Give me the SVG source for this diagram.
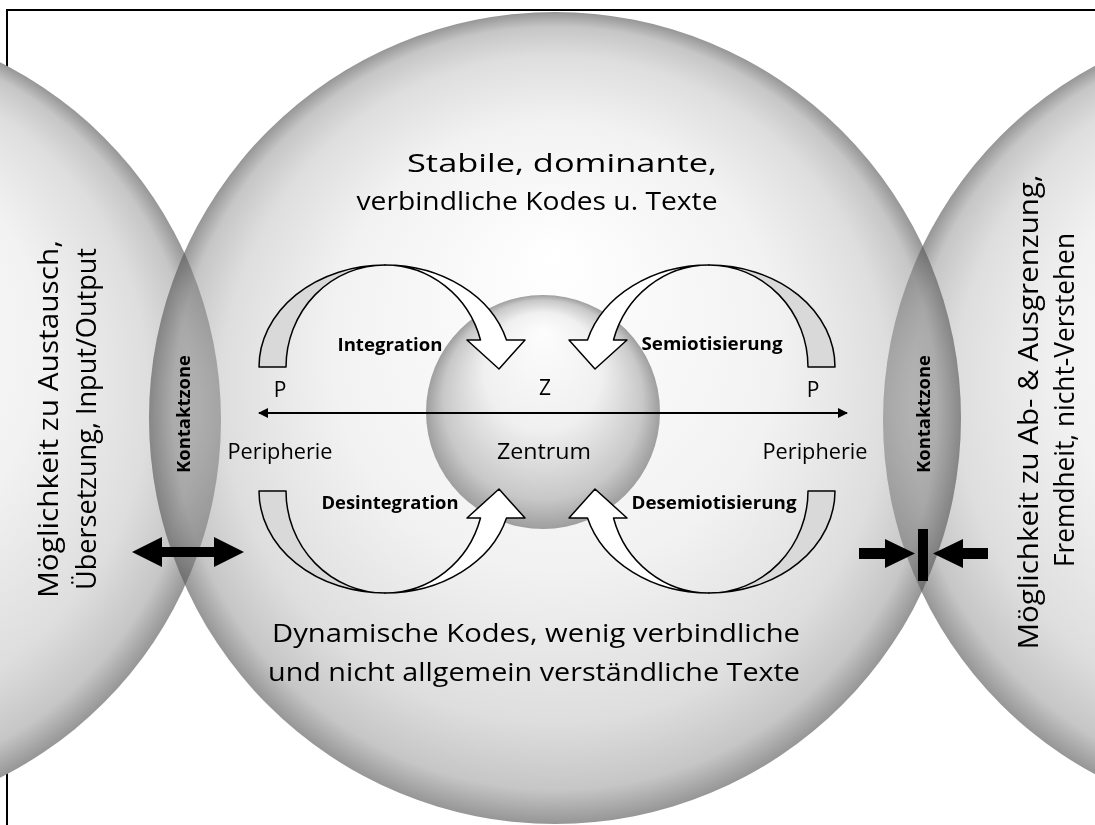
<svg xmlns="http://www.w3.org/2000/svg" width="1095" height="825" viewBox="0 0 1095 825">
<defs>
  <radialGradient id="sph" cx="0.5" cy="0.5" r="0.5" fx="0.5" fy="0.3">
    <stop offset="0" stop-color="#ffffff"/>
    <stop offset="0.55" stop-color="#f2f2f2"/>
    <stop offset="0.82" stop-color="#dedede"/>
    <stop offset="0.94" stop-color="#c6c6c6"/>
    <stop offset="1" stop-color="#969696"/>
  </radialGradient>
  <radialGradient id="lensOv" cx="0.5" cy="0.5" r="0.5" fx="0.5" fy="0.3">
    <stop offset="0" stop-color="#ffffff"/>
    <stop offset="0.8" stop-color="#e8e8e8"/>
    <stop offset="0.93" stop-color="#d8d8d8"/>
    <stop offset="1" stop-color="#bdbdbd"/>
  </radialGradient>
  <radialGradient id="csph" cx="0.5" cy="0.5" r="0.5" fx="0.5" fy="0.15">
    <stop offset="0" stop-color="#fdfdfd"/>
    <stop offset="0.5" stop-color="#f0f0f0"/>
    <stop offset="0.85" stop-color="#c8c8c8"/>
    <stop offset="1" stop-color="#9e9e9e"/>
  </radialGradient>
  <clipPath id="mainClip"><circle cx="555" cy="418" r="406"/></clipPath>
  <marker id="ah" viewBox="0 0 10 10" refX="9" refY="5" markerWidth="10" markerHeight="10" markerUnits="userSpaceOnUse" orient="auto-start-reverse">
    <path d="M0,0 L10,5 L0,10 Z" fill="#000"/>
  </marker>
  <g id="carrow">
    <path class="gray" d="M259,367 A126,102 0 0 1 385,265 A99,102 0 0 0 286,367 Z"/>
    <path class="white" d="M385,265 A126,102 0 0 1 506.5,340 L525,340 L499,369 L467,340 L480.5,340 A99,102 0 0 0 385,265 Z"/>
  </g>
</defs>
<style>
  .gray { fill:#d9d9d9; stroke:#000; stroke-width:1.5; stroke-linejoin:round; }
  .white { fill:#ffffff; stroke:#000; stroke-width:1.5; stroke-linejoin:round; }
  text { font-family:"Open Sans","Liberation Sans",sans-serif; fill:#000; }
  .big { font-size:26px; text-anchor:middle; }
  .side { font-size:27px; text-anchor:middle; }
  .lab { font-size:21px; text-anchor:middle; }
  .bold { font-size:18px; font-weight:bold; text-anchor:middle; }
  .kz { font-size:18px; font-weight:bold; text-anchor:middle; }
</style>
<rect x="0" y="0" width="1095" height="825" fill="#ffffff"/>
<rect x="7" y="10" width="1100" height="830" fill="none" stroke="#000" stroke-width="2"/>

<g id="sphere-left"><circle cx="-179" cy="420" r="400" fill="url(#sph)"/></g>
<g id="sphere-right"><circle cx="1285" cy="420" r="402" fill="url(#sph)"/></g>
<g id="sphere-main"><circle cx="555" cy="418" r="406" fill="url(#sph)"/></g>
<g id="kontaktzone-left">
  <circle cx="-179" cy="420" r="400" fill="url(#lensOv)" clip-path="url(#mainClip)" style="mix-blend-mode:multiply"/>
  <text class="kz" transform="translate(190,414) rotate(-90)" textLength="118" lengthAdjust="spacingAndGlyphs">Kontaktzone</text>
</g>
<g id="kontaktzone-right">
  <circle cx="1285" cy="420" r="402" fill="url(#lensOv)" clip-path="url(#mainClip)" style="mix-blend-mode:multiply"/>
  <text class="kz" transform="translate(930,414) rotate(-90)" textLength="118" lengthAdjust="spacingAndGlyphs">Kontaktzone</text>
</g>
<g id="zentrum"><circle cx="543" cy="412" r="117" fill="url(#csph)"/></g>

<g id="connectors">
  <line x1="259" y1="413" x2="847" y2="413" stroke="#000" stroke-width="2" marker-start="url(#ah)" marker-end="url(#ah)"/>
  <g id="integration"><use href="#carrow"/></g>
  <g id="semiotisierung"><use href="#carrow" transform="translate(1094,0) scale(-1,1)"/></g>
  <g id="desintegration"><use href="#carrow" transform="translate(0,858) scale(1,-1)"/></g>
  <g id="desemiotisierung"><use href="#carrow" transform="translate(1094,858) scale(-1,-1)"/></g>
  <path id="exchange" d="M132,552 L162,537 L162,547 L214,547 L214,537 L244,552 L214,567 L214,557 L162,557 L162,567 Z" fill="#000"/>
  <g id="barrier" fill="#000">
    <path d="M859,548 L885,548 L885,539 L915,553.5 L885,568 L885,559 L859,559 Z"/>
    <rect x="918" y="529" width="10" height="52"/>
    <path d="M988,548 L963,548 L963,539 L933,553.5 L963,568 L963,559 L988,559 Z"/>
  </g>
</g>

<g id="labels">
  <text class="big" x="562" y="172" textLength="310" lengthAdjust="spacingAndGlyphs">Stabile, dominante,</text>
  <text class="big" x="537" y="210" textLength="361" lengthAdjust="spacingAndGlyphs">verbindliche Kodes u. Texte</text>
  <text class="big" x="536" y="642" textLength="528" lengthAdjust="spacingAndGlyphs">Dynamische Kodes, wenig verbindliche</text>
  <text class="big" x="534" y="681" textLength="532" lengthAdjust="spacingAndGlyphs">und nicht allgemein verständliche Texte</text>
  <text class="lab" x="280" y="397">P</text>
  <text class="lab" x="813" y="397">P</text>
  <text class="lab" x="545" y="395">Z</text>
  <text class="lab" x="280" y="459" textLength="105" lengthAdjust="spacingAndGlyphs">Peripherie</text>
  <text class="lab" x="544" y="459" textLength="94" lengthAdjust="spacingAndGlyphs">Zentrum</text>
  <text class="lab" x="815" y="459" textLength="105" lengthAdjust="spacingAndGlyphs">Peripherie</text>
  <text class="bold" x="390" y="351" textLength="105" lengthAdjust="spacingAndGlyphs">Integration</text>
  <text class="bold" x="712" y="350" textLength="141" lengthAdjust="spacingAndGlyphs">Semiotisierung</text>
  <text class="bold" x="390" y="509" textLength="137" lengthAdjust="spacingAndGlyphs">Desintegration</text>
  <text class="bold" x="714" y="509" textLength="165" lengthAdjust="spacingAndGlyphs">Desemiotisierung</text>
  <text class="side" transform="translate(58,419) rotate(-90)" textLength="358" lengthAdjust="spacingAndGlyphs">Möglichkeit zu Austausch,</text>
  <text class="side" transform="translate(96,419) rotate(-90)" textLength="342" lengthAdjust="spacingAndGlyphs">Übersetzung, Input/Output</text>
  <text class="side" transform="translate(1038,412) rotate(-90)" textLength="475" lengthAdjust="spacingAndGlyphs">Möglichkeit zu Ab- &amp; Ausgrenzung,</text>
  <text class="side" transform="translate(1074,400) rotate(-90)" textLength="334" lengthAdjust="spacingAndGlyphs">Fremdheit, nicht-Verstehen</text>
</g>
</svg>
